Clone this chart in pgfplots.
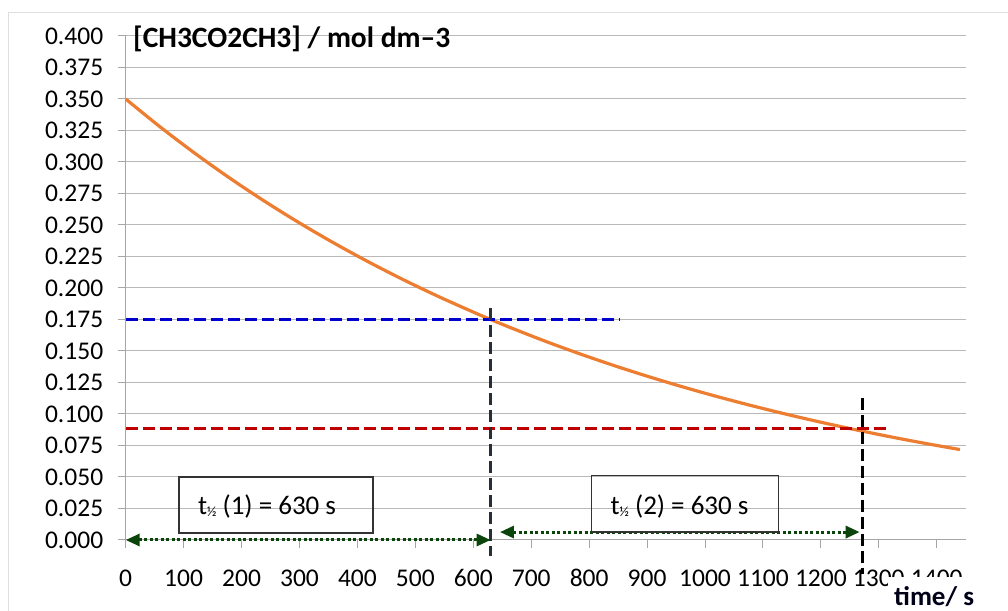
\documentclass[border=0pt]{standalone}
\usepackage{pgfplots}
\pgfplotsset{compat=1.18}
\usepackage{fontspec}
\setmainfont{Carlito}
\usetikzlibrary{arrows.meta}
\definecolor{curveor}{HTML}{ED7D31}
\definecolor{bluedash}{HTML}{0000CC}
\definecolor{reddash}{HTML}{C00000}
\definecolor{darkslate}{HTML}{262E38}
\definecolor{arrowgreen}{HTML}{0B450B}
\begin{document}
\begin{tikzpicture}
\path[use as bounding box] (0,0) rectangle (1008bp,611bp);
\draw[gray!25, line width=1bp] (8.5bp,0) -- (8.5bp,598bp) -- (1008bp,598bp);
\begin{axis}[
  at={(125.7bp,71bp)}, anchor=south west,
  scale only axis, width=840bp, height=504bp,
  xmin=0, xmax=1450, ymin=0, ymax=0.4,
  axis lines=left, axis line style={-, gray!70, line width=1bp},
  xtick={0,100,200,300,400,500,600,700,800,900,1000,1100,1200,1300,1400},
  ytick={0,0.025,0.05,0.075,0.1,0.125,0.15,0.175,0.2,0.225,0.25,0.275,0.3,0.325,0.35,0.375,0.4},
  ymajorgrids, grid style={gray!55, line width=1bp},
  tick style={gray!70, line width=1bp},
  major tick length=8bp,
  xtick align=outside, ytick align=outside,
  tick label style={font=\fontsize{25.5bp}{30bp}\selectfont, black},
  /pgf/number format/assume math mode=true,
  yticklabel style={xshift=-11bp, /pgf/number format/.cd, fixed, fixed zerofill, precision=3},
  xticklabel style={yshift=-18bp, /pgf/number format/.cd, 1000 sep={}},
  clip=false,
]
% concentration curve
\addplot[curveor, line width=3.2bp, smooth] coordinates {
(0,0.35000) (60,0.32764) (120,0.30671) (180,0.28712) (240,0.26878) (300,0.25161)
(360,0.23554) (420,0.22049) (480,0.20640) (540,0.19322) (600,0.18088) (630,0.17500)
(660,0.16932) (720,0.15850) (780,0.14838) (840,0.13890) (900,0.13003) (960,0.12172)
(1020,0.11395) (1080,0.10667) (1140,0.09986) (1200,0.09348) (1260,0.08750)
(1320,0.08191) (1380,0.07668) (1440,0.07178)};
% horizontal dashed lines
\addplot[bluedash, line width=3bp, dash pattern=on 12bp off 5bp] coordinates {(0,0.175) (853,0.175)};
\addplot[reddash, line width=3bp, dash pattern=on 12bp off 5bp] coordinates {(0,0.0885) (1317,0.0885)};
% vertical dashed lines
\addplot[darkslate, line width=3bp, dash pattern=on 12bp off 5bp] coordinates {(630,0.184) (630,-0.013)};
\addplot[black, line width=3bp, dash pattern=on 12bp off 5bp] coordinates {(1272,0.113) (1272,-0.027)};
% arrows
\addplot[arrowgreen, line width=3bp, dash pattern=on 3bp off 2.5bp,
  {Triangle[length=14bp,width=12bp]}-{Triangle[length=14bp,width=12bp]}] coordinates {(0,0.0) (630,0.0)};
\addplot[arrowgreen, line width=3bp, dash pattern=on 3bp off 2.5bp,
  {Triangle[length=14bp,width=12bp]}-{Triangle[length=14bp,width=12bp]}] coordinates {(646,0.0063) (1267,0.0063)};
% boxes
\draw[black!80, line width=1.3bp] (axis cs:92,0.0056) rectangle (axis cs:427,0.050);
\draw[black!80, line width=1.3bp] (axis cs:804,0.0064) rectangle (axis cs:1127,0.051);
\node[font=\fontsize{27bp}{32bp}\selectfont, inner sep=0] at (axis cs:244,0.0262)
  {t{\fontsize{14bp}{14bp}\selectfont\raisebox{-2bp}{½}} (1) = 630 s};
\node[font=\fontsize{27bp}{32bp}\selectfont, inner sep=0] at (axis cs:956,0.0262)
  {t{\fontsize{14bp}{14bp}\selectfont\raisebox{-2bp}{½}} (2) = 630 s};
% y label
\node[anchor=base west, inner sep=0, font=\bfseries\fontsize{29.5bp}{33bp}\selectfont]
  at (axis cs:12.6,0.3905) {[CH3CO2CH3] / mol dm–3};
\end{axis}
\fill[white] (888bp,0) rectangle (1008bp,34bp);
\node[anchor=base west, inner sep=0, font=\bfseries\fontsize{27bp}{30bp}\selectfont, text=black!90!blue]
  at (894bp,6bp) {time/ s};
\end{tikzpicture}
\end{document}
